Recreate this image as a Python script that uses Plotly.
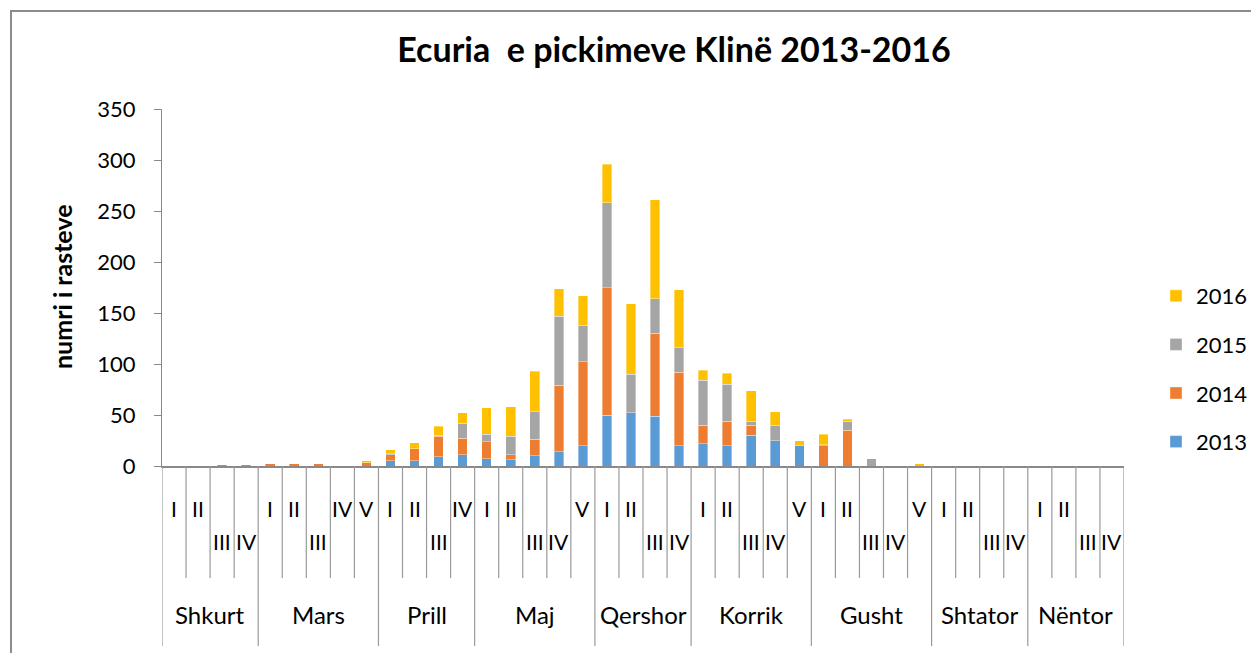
import plotly.graph_objects as go

# ---------------- data ----------------
months = ["Shkurt", "Mars", "Prill", "Maj", "Qershor", "Korrik", "Gusht", "Shtator", "Nëntor"]
weeks_per_month = [
    ["I", "II", "III", "IV"],
    ["I", "II", "III", "IV", "V"],
    ["I", "II", "III", "IV"],
    ["I", "II", "III", "IV", "V"],
    ["I", "II", "III", "IV"],
    ["I", "II", "III", "IV", "V"],
    ["I", "II", "III", "IV", "V"],
    ["I", "II", "III", "IV"],
    ["I", "II", "III", "IV"],
]
years = ["2013", "2014", "2015", "2016"]

v2013 = [0, 0, 0, 0, 0, 0, 0, 0, 0, 5, 5, 9, 11, 7, 6, 10, 14, 20, 50, 52,
         49, 20, 22, 20, 30, 25, 20, 0, 0, 0, 0, 0, 0, 0, 0, 0, 0, 0, 0, 0]
v2014 = [0, 0, 1, 1, 2, 2, 2, 0, 3, 6, 12, 20, 16, 17, 5, 16, 65, 82, 125, 0,
         81, 72, 18, 24, 10, 0, 0, 20, 35, 0, 0, 0, 0, 0, 0, 0, 0, 0, 0, 0]
v2015 = [0, 0, 0, 0, 0, 0, 0, 0, 0, 1, 0, 1, 15, 7, 18, 27, 68, 36, 83, 38,
         34, 24, 44, 36, 4, 15, 0, 1, 9, 7, 0, 0, 0, 0, 0, 0, 0, 0, 0, 0]
v2016 = [0, 0, 0, 0, 0, 0, 0, 0, 2, 4, 6, 9, 10, 26, 29, 40, 27, 29, 38, 69,
         97, 57, 10, 11, 30, 13, 5, 10, 2, 0, 0, 2, 0, 0, 0, 0, 0, 0, 0, 0]

y_ticks = [0, 50, 100, 150, 200, 250, 300, 350]

# ---------------- style ----------------
colors = {"2013": "#5B9BD5", "2014": "#ED7D31", "2015": "#A5A5A5", "2016": "#FFC000"}
series = {"2013": v2013, "2014": v2014, "2015": v2015, "2016": v2016}
legend_rank = {"2016": 1, "2015": 2, "2014": 3, "2013": 4}
FONT = "Lato, 'Open Sans', sans-serif"
AXIS_GREY = "#898989"

# page body has an 8px margin; work in reference-screen pixels and shift
OFF = 8
W, H = 1259 - OFF, 653 - OFF
PL, PR, PT, PB = 162, 1124, 109, 466          # plot area in reference pixels
L, T = PL - OFF, PT - OFF
R, B = W - (PR - OFF), H - (PB - OFF)
PW, PH = PR - PL, PB - PT

def px_x(px):
    return (px - PL) / PW

def px_y(py):
    return (PB - py) / PH

# label rows as in reference
low_labels = {"III"}
high_iv = {(1, 3), (2, 3)}  # Mars IV, Prill IV sit on upper row

cats = []
for mi, wk in enumerate(weeks_per_month):
    for w in wk:
        cats.append(w)
x_idx = list(range(len(cats)))

fig = go.Figure()
for yr in years:
    fig.add_trace(go.Bar(
        x=x_idx, y=series[yr], name=yr, legendgroup=yr, legendrank=legend_rank[yr],
        marker=dict(color=colors[yr], line=dict(color="rgba(255,255,255,0.6)", width=0.6)),
    ))

annotations = []
shapes = []

pos = 0
bounds = [-0.5]
for mi, wk in enumerate(weeks_per_month):
    start = pos
    for wi, w in enumerate(wk):
        low = (w in low_labels) or (w == "IV" and (mi, wi) not in high_iv)
        annotations.append(dict(
            x=pos, xref="x", y=px_y(541 if low else 508), yref="paper",
            text=w, showarrow=False, xanchor="center", yanchor="middle",
            font=dict(family=FONT, size=21, color="#000000")))
        pos += 1
    bounds.append(pos - 0.5)
    annotations.append(dict(
        x=(start + pos - 1) / 2, xref="x", y=px_y(614), yref="paper",
        text=months[mi], showarrow=False, xanchor="center", yanchor="middle",
        font=dict(family=FONT, size=24, color="#000000")))

for b in range(len(cats) + 1):
    xb = b - 0.5
    is_month = xb in bounds
    shapes.append(dict(type="line", xref="x", yref="paper",
                       x0=xb, x1=xb, y0=0, y1=px_y(646 if is_month else 578),
                       line=dict(color="#9a9a9a", width=1.2)))

annotations.append(dict(
    x=px_x(62), xref="paper", y=px_y(287), yref="paper", text="<b>numri i rasteve</b>",
    textangle=-90, showarrow=False, xanchor="center", yanchor="middle",
    font=dict(family=FONT, size=25, color="#000000")))

shapes.append(dict(type="rect", xref="paper", yref="paper",
                   x0=px_x(11), x1=px_x(1254), y0=px_y(11), y1=px_y(700),
                   line=dict(color="#8c8c8c", width=2), fillcolor="rgba(0,0,0,0)"))

fig.update_layout(
    width=W, height=H,
    margin=dict(l=L, r=R, t=T, b=B, autoexpand=False),
    paper_bgcolor="white", plot_bgcolor="white",
    barmode="stack", bargap=0.6,
    title=dict(text="<b>Ecuria  e pickimeve Klinë 2013-2016</b>",
               x=(674 - OFF) / W, xref="container", xanchor="center",
               y=1 - (50 - OFF) / H, yref="container", yanchor="middle",
               font=dict(family=FONT, size=34, color="#000000")),
    xaxis=dict(range=[-0.5, len(cats) - 0.5], showticklabels=False, ticks="",
               showgrid=False, zeroline=False, showline=True,
               linecolor=AXIS_GREY, linewidth=1.5, fixedrange=True),
    yaxis=dict(range=[0, 350], tickvals=y_ticks, ticktext=[str(v) for v in y_ticks],
               showgrid=False, zeroline=False, showline=True,
               linecolor=AXIS_GREY, linewidth=1.3, ticks="outside", ticklen=7,
               tickcolor=AXIS_GREY, tickfont=dict(family=FONT, size=22, color="#000000"),
               ticklabelstandoff=14),
    legend=dict(x=px_x(1156), xanchor="left", y=px_y(369), yanchor="middle",
                traceorder="grouped", tracegroupgap=17,
                font=dict(family=FONT, size=22, color="#000000"),
                bgcolor="rgba(0,0,0,0)"),
    annotations=annotations, shapes=shapes,
    showlegend=True,
)

fig.write_html("out.html")
